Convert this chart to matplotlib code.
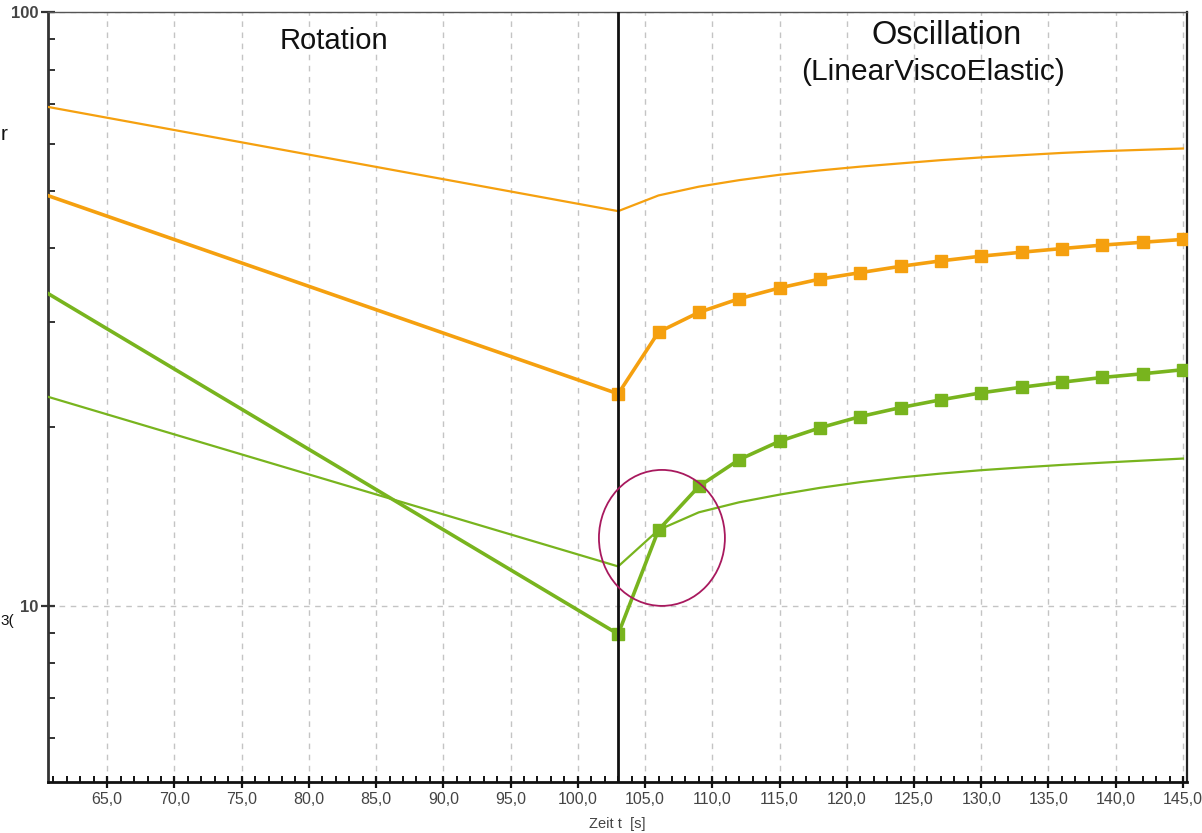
import matplotlib
matplotlib.use("Agg")
import matplotlib.pyplot as plt
from matplotlib.patches import Ellipse
from matplotlib.ticker import LogLocator, FixedLocator, MultipleLocator, NullFormatter, FuncFormatter

plt.rcParams['font.family'] = ['Liberation Sans', 'DejaVu Sans']

# Time axis [s]: rotation phase start, switch at 103 s, then oscillation every 3 s
time_s = [60.0, 103.0, 106.0, 109.0, 112.0, 115.0, 118.0, 121.0, 124.0,
          127.0, 130.0, 133.0, 136.0, 139.0, 142.0, 145.0]

# Orange thick (with markers)
orange_thick = [49.6, 22.75, 28.9, 31.2, 32.9, 34.3, 35.5, 36.4, 37.3,
                38.1, 38.8, 39.4, 39.96, 40.5, 40.95, 41.4]
# Orange thin
orange_thin = [69.6, 46.2, 49.1, 50.8, 52.1, 53.2, 54.1, 54.9, 55.6,
               56.3, 56.9, 57.4, 57.9, 58.3, 58.6, 58.9]
# Green thick (with markers)
green_thick = [34.2, 8.96, 13.42, 15.89, 17.63, 18.93, 19.94, 20.83, 21.57,
               22.23, 22.84, 23.34, 23.80, 24.24, 24.59, 24.98]
# Green thin
green_thin = [22.7, 11.65, 13.42, 14.37, 14.94, 15.39, 15.8, 16.15, 16.45,
              16.7, 16.92, 17.1, 17.27, 17.42, 17.56, 17.7]

switch_time = 103.0
x_limits = (60.6, 145.3)
y_limits = (5.05, 100.0)
x_major_ticks = [65, 70, 75, 80, 85, 90, 95, 100, 105, 110, 115, 120, 125, 130, 135, 140, 145]
y_major_ticks = [10, 100]

ORANGE = '#f5a00f'
GREEN = '#78b41e'

fig = plt.figure(figsize=(12.02, 8.33), dpi=100)
ax = fig.add_axes([48 / 1202, 1 - 782 / 833, (1187 - 48) / 1202, (782 - 12) / 833])

ax.set_yscale('log')
ax.set_xlim(*x_limits)
ax.set_ylim(*y_limits)

# Grid
ax.xaxis.set_major_locator(FixedLocator(x_major_ticks))
ax.xaxis.set_minor_locator(MultipleLocator(1))
ax.yaxis.set_major_locator(FixedLocator(y_major_ticks))
ax.yaxis.set_minor_locator(LogLocator(base=10, subs=range(2, 10)))
ax.yaxis.set_minor_formatter(NullFormatter())
ax.grid(True, which='major', color='#c4c4c4', linestyle=(0, (4, 4)), linewidth=1.0)
ax.set_axisbelow(True)

# Series
ax.plot(time_s, orange_thin, color=ORANGE, lw=1.6, zorder=3)
ax.plot(time_s, green_thin, color=GREEN, lw=1.6, zorder=3)
ax.plot(time_s, orange_thick, color=ORANGE, lw=2.6, marker='s', ms=8.5,
        mec=ORANGE, mfc=ORANGE, zorder=4)
ax.plot(time_s, green_thick, color=GREEN, lw=2.6, marker='s', ms=8.5,
        mec=GREEN, mfc=GREEN, zorder=4)

# Phase separator
ax.axvline(switch_time, color='#111111', lw=2.0, zorder=5)

# Highlight ring
ax.add_patch(Ellipse((0.539, 0.317), 0.1106, 0.1766, transform=ax.transAxes,
                     fill=False, edgecolor='#a8195e', lw=1.3, zorder=6))

# Phase labels
xtrans = ax.get_xaxis_transform()
ax.text(81.9, 0.962, 'Rotation', transform=xtrans,
        ha='center', va='center', fontsize=21, color='#111111')
ax.text(127.4, 0.970, 'Oscillation', transform=xtrans,
        ha='center', va='center', fontsize=23.5, color='#111111')
ax.text(126.4, 0.922, '(LinearViscoElastic)', transform=xtrans,
        ha='center', va='center', fontsize=21.5, color='#111111')

# Spines
ax.spines['left'].set_color('#333333')
ax.spines['left'].set_linewidth(2.0)
ax.spines['bottom'].set_color('#111111')
ax.spines['bottom'].set_linewidth(2.0)
ax.spines['right'].set_color('#222222')
ax.spines['right'].set_linewidth(1.6)
ax.spines['top'].set_color('#555555')
ax.spines['top'].set_linewidth(1.0)

# Ticks
ax.tick_params(axis='x', which='major', direction='inout', length=9, width=1.6,
               color='#111111', labelsize=11.5, labelcolor='#444444', pad=3)
ax.tick_params(axis='x', which='minor', direction='in', length=4, width=1.4, color='#111111')
ax.tick_params(axis='y', which='major', direction='inout', length=10, width=1.6,
               color='#333333', labelsize=12, labelcolor='#444444', pad=2)
ax.tick_params(axis='y', which='minor', direction='in', length=5, width=1.4, color='#333333')
ax.xaxis.set_major_formatter(FuncFormatter(lambda v, p: f'{v:.1f}'.replace('.', ',')))
ax.yaxis.set_major_formatter(FuncFormatter(lambda v, p: f'{v:.0f}'))
for lbl in ax.get_yticklabels():
    lbl.set_fontweight('bold')

ax.set_xlabel('Zeit t  [s]', fontsize=10.5, color='#444444', labelpad=7)

# Side label fragments
fig.text(8 / 1202, 1 - 135 / 833, 'r', ha='right', va='center', fontsize=15, color='#111111')
fig.text(0.5 / 1202, 1 - 621 / 833, '3(', ha='left', va='center', fontsize=11, color='#111111')

fig.savefig('out.png', dpi=100)
